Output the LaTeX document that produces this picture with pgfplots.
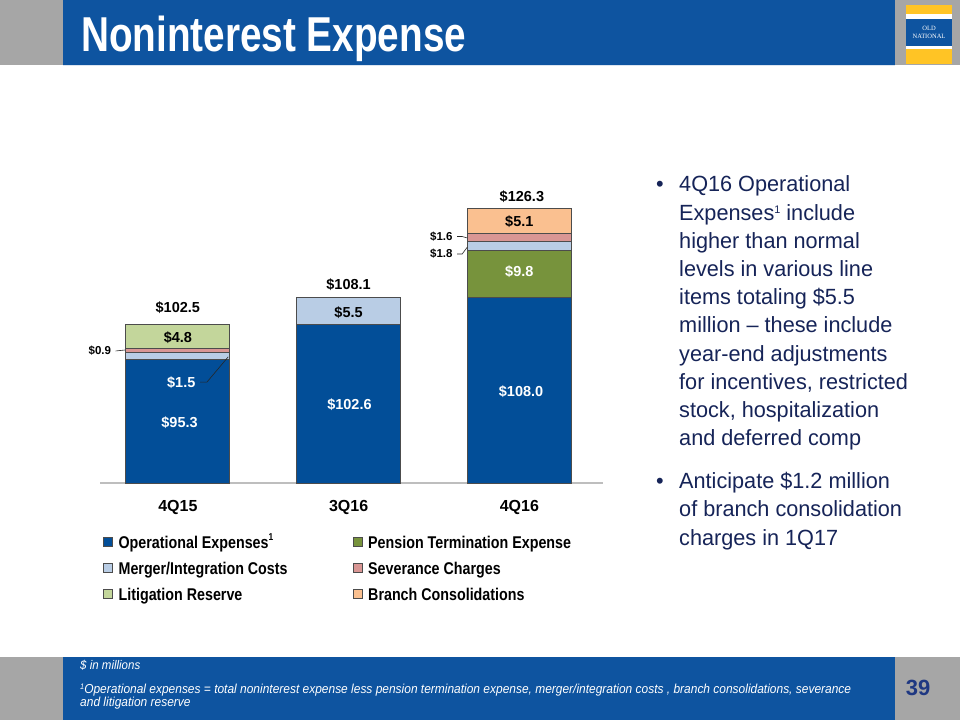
\documentclass[border=0pt]{standalone}
\usepackage{pgfplots}
\pgfplotsset{compat=1.18}
\usepackage{fontspec}
\setmainfont{Liberation Sans}
\newfontfamily\titlefont[FakeStretch=0.79]{Liberation Sans}
\newfontfamily\legfont[FakeStretch=0.84]{Liberation Sans}
\newfontfamily\footfont[FakeStretch=0.92]{Liberation Sans}
\newfontfamily\bulfont[FakeStretch=0.985]{Liberation Sans}
\newfontfamily\logofont{Liberation Serif}
\definecolor{hdrblue}{RGB}{14,84,160}
\definecolor{hdrgray}{RGB}{166,166,166}
\definecolor{logoyellow}{RGB}{255,196,37}
\definecolor{navy}{RGB}{22,36,88}
\definecolor{numblue}{RGB}{31,56,130}
\definecolor{opblue}{RGB}{2,78,152}
\definecolor{pension}{RGB}{119,147,60}
\definecolor{merger}{RGB}{185,205,229}
\definecolor{severance}{RGB}{217,150,148}
\definecolor{litigation}{RGB}{195,214,155}
\definecolor{branch}{RGB}{250,192,144}
\definecolor{axisgray}{RGB}{190,190,190}
\newcommand{\lab}{\bfseries\fontsize{14.5}{16}\selectfont}
\newcommand{\slab}{\bfseries\fontsize{11.5}{13}\selectfont}
\newcommand{\btxt}{\color{navy}\bulfont\fontsize{22}{26}\selectfont}
\begin{document}
\begin{tikzpicture}[x=1pt,y=1pt]
\useasboundingbox (0,0) rectangle (960,720);
\fill[white] (0,0) rectangle (960,720);
% header
\fill[hdrgray] (0,655) rectangle (960,720);
\fill[hdrblue] (63,655) rectangle (895,720);
\draw[white!85!hdrblue, line width=1pt] (63,654.5) -- (895,654.5);
\node[anchor=base west, text=white, inner sep=0pt] at (81,668) {\titlefont\bfseries\fontsize{49}{52}\selectfont Noninterest Expense};
% logo
\fill[logoyellow] (906,656) rectangle (952,715);
\fill[white] (906,671) rectangle (952,706);
\fill[hdrblue] (906,674) rectangle (952,701);
\node[text=white, inner sep=0pt] at (929,692) {\logofont\fontsize{6.5}{7}\selectfont OLD};
\node[text=white, inner sep=0pt] at (929,684) {\logofont\fontsize{6.5}{7}\selectfont NATIONAL};
% footer
\fill[hdrgray] (0,0) rectangle (960,63);
\fill[hdrblue] (63,0) rectangle (895,63);
\node[anchor=base west, text=white, inner sep=0pt] at (80,51) {\footfont\itshape\fontsize{12.5}{14}\selectfont \$ in millions};
\node[anchor=base west, text=white, inner sep=0pt] at (80,27) {\footfont\itshape\fontsize{13}{14}\selectfont \raisebox{3.5pt}{\fontsize{8}{8}\selectfont 1}Operational expenses = total noninterest expense less pension termination expense, merger/integration costs , branch consolidations, severance};
\node[anchor=base west, text=white, inner sep=0pt] at (80,14) {\footfont\itshape\fontsize{13}{14}\selectfont and litigation reserve};
\node[text=numblue, inner sep=0pt] at (918,32) {\bfseries\fontsize{22}{24}\selectfont 39};
% bullets
\node[anchor=base, inner sep=0pt] at (660,528) {\btxt •};
\node[anchor=base west, inner sep=0pt] at (679,528.0) {\btxt 4Q16 Operational};
\node[anchor=base west, inner sep=0pt] at (679,499.8) {\btxt Expenses\raisebox{7pt}{\fontsize{11}{11}\selectfont 1} include};
\node[anchor=base west, inner sep=0pt] at (679,471.6) {\btxt higher than normal};
\node[anchor=base west, inner sep=0pt] at (679,443.4) {\btxt levels in various line};
\node[anchor=base west, inner sep=0pt] at (679,415.2) {\btxt items totaling \$5.5};
\node[anchor=base west, inner sep=0pt] at (679,387.0) {\btxt million – these include};
\node[anchor=base west, inner sep=0pt] at (679,358.8) {\btxt year-end adjustments};
\node[anchor=base west, inner sep=0pt] at (679,330.6) {\btxt for incentives, restricted};
\node[anchor=base west, inner sep=0pt] at (679,302.4) {\btxt stock, hospitalization};
\node[anchor=base west, inner sep=0pt] at (679,274.2) {\btxt and deferred comp};
\node[anchor=base, inner sep=0pt] at (660,231) {\btxt •};
\node[anchor=base west, inner sep=0pt] at (679,231) {\btxt Anticipate \$1.2 million};
\node[anchor=base west, inner sep=0pt] at (679,203) {\btxt of branch consolidation};
\node[anchor=base west, inner sep=0pt] at (679,175) {\btxt charges in 1Q17};
% chart
\begin{axis}[
  at={(100pt,237pt)}, anchor=south west,
  scale only axis, width=503pt, height=341pt,
  xmin=-0.456, xmax=2.49, ymin=70, ymax=140,
  ybar stacked, bar width=104pt,
  separate axis lines,
  axis x line=bottom, hide y axis,
  x axis line style={-, draw=axisgray, line width=1.5pt},
  xtick={0,1,2}, xticklabels={4Q15,3Q16,4Q16},
  major tick length=0pt,
  xticklabel style={font=\bfseries\fontsize{16}{18}\selectfont, yshift=-14pt},
  every axis plot/.append style={draw=black!70, line width=0.8pt},
  legend columns=2,
  legend cell align=left,
  legend image code/.code={\draw[#1, draw=black!70, line width=0.6pt] (0pt,-2pt) rectangle (9pt,7pt);},
  legend style={at={(0.006,-0.156)}, anchor=north west, draw=none, fill=none,
    inner sep=0pt, outer sep=0pt, column sep=6pt, row sep=10pt,
    font={\legfont\bfseries\fontsize{17}{20}\selectfont},
    nodes={inner sep=0pt, text height=12.5pt, text depth=3.5pt}},
]
\addplot[fill=opblue] coordinates {(0,95.3) (1,102.6) (2,108.0)};
\addlegendentry{\makebox[228pt][l]{Operational Expenses\raisebox{8pt}{\fontsize{10}{10}\selectfont 1}}}
\addplot[fill=pension] coordinates {(0,0) (1,0) (2,9.8)};
\addlegendentry{Pension Termination Expense}
\addplot[fill=merger] coordinates {(0,1.5) (1,5.5) (2,1.8)};
\addlegendentry{\makebox[228pt][l]{Merger/Integration Costs}}
\addplot[fill=severance] coordinates {(0,0.9) (1,0) (2,1.6)};
\addlegendentry{Severance Charges}
\addplot[fill=litigation] coordinates {(0,4.8) (1,0) (2,0)};
\addlegendentry{\makebox[228pt][l]{Litigation Reserve}}
\addplot[fill=branch] coordinates {(0,0) (1,0) (2,5.1)};
\addlegendentry{Branch Consolidations}
% anchor points for labels
\coordinate (T1) at (axis cs:0,105.9);
\coordinate (T2) at (axis cs:1,110.7);
\coordinate (T3) at (axis cs:2.015,128.7);
\coordinate (I1) at (axis cs:0,99.8);
\coordinate (I2) at (axis cs:1,104.9);
\coordinate (I3) at (axis cs:2,123.6);
\coordinate (W1) at (axis cs:2,113.3);
\coordinate (W2) at (axis cs:2.01,88.7);
\coordinate (W3) at (axis cs:1.005,86.0);
\coordinate (W4) at (axis cs:0.01,82.3);
\coordinate (W5) at (axis cs:0.02,90.7);
\coordinate (A1) at (axis cs:0.13,90.7);
\coordinate (A2) at (axis cs:0.17,90.7);
\coordinate (A3) at (axis cs:0.295,95.9);
\coordinate (S1) at (axis cs:-0.39,97.1);
\coordinate (B1) at (axis cs:-0.365,97.1);
\coordinate (B2) at (axis cs:-0.31,97.3);
\coordinate (S2) at (axis cs:1.61,120.5);
\coordinate (C1) at (axis cs:1.635,120.6);
\coordinate (C2) at (axis cs:1.665,120.6);
\coordinate (C3) at (axis cs:1.695,120.3);
\coordinate (S3) at (axis cs:1.61,117.0);
\coordinate (D1) at (axis cs:1.635,117.0);
\coordinate (D2) at (axis cs:1.665,117.0);
\coordinate (D3) at (axis cs:1.695,118.4);
\end{axis}
% totals
\node at (T1) {\lab \$102.5};
\node at (T2) {\lab \$108.1};
\node at (T3) {\lab \$126.3};
% inside labels
\node at (I1) {\lab \$4.8};
\node at (I2) {\lab \$5.5};
\node at (I3) {\lab \$5.1};
\node[text=white] at (W1) {\lab \$9.8};
\node[text=white] at (W2) {\lab \$108.0};
\node[text=white] at (W3) {\lab \$102.6};
\node[text=white] at (W4) {\lab \$95.3};
\node[text=white] at (W5) {\lab \$1.5};
\draw[black!85, line width=0.6pt] (A1) -- (A2) -- (A3);
% small outside labels
\node[anchor=east, inner sep=0pt] at (S1) {\slab \$0.9};
\draw[black!85, line width=0.6pt] (B1) -- (B2);
\node[anchor=east, inner sep=0pt] at (S2) {\slab \$1.6};
\draw[black!85, line width=0.6pt] (C1) -- (C2) -- (C3);
\node[anchor=east, inner sep=0pt] at (S3) {\slab \$1.8};
\draw[black!85, line width=0.6pt] (D1) -- (D2) -- (D3);
\end{tikzpicture}
\end{document}
